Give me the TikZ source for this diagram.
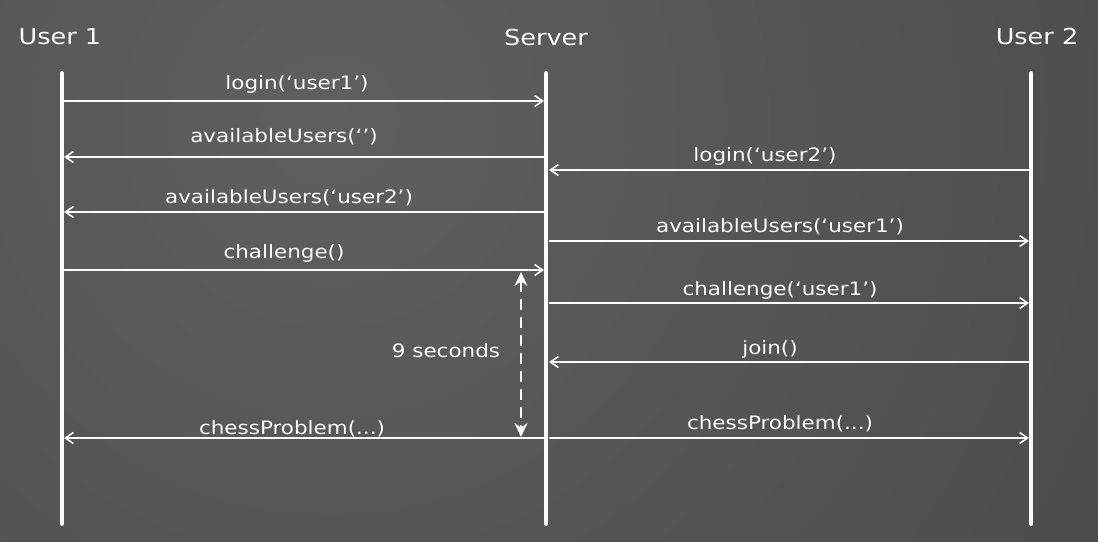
\documentclass[tikz,border=0pt]{standalone}
\usepackage{fontspec}
\setmainfont{DejaVu Sans}[FakeStretch=1.16]
\usetikzlibrary{arrows.meta}
\definecolor{bgA}{HTML}{5F5F5F}
\definecolor{bgB}{HTML}{373737}
\definecolor{chalk}{HTML}{FAFAFA}
\begin{document}
\begin{tikzpicture}[x=1pt,y=-1pt,
  lifeline/.style={draw=chalk,line width=4pt,line cap=round},
  msg/.style={draw=chalk,line width=2pt,-{Straight Barb[length=8pt,width=11pt,line width=1.6pt]}},
  head/.style={text=chalk,font=\fontsize{22}{24}\selectfont,anchor=base,inner sep=0pt},
  lbl/.style={text=chalk,font=\fontsize{18.5}{20}\selectfont,anchor=base,inner sep=0pt},
  timer/.style={draw=chalk,line width=2.5pt,dash pattern=on 11pt off 7pt,{Stealth[length=14pt,width=13pt]}-{Stealth[length=14pt,width=13pt]}}]
\useasboundingbox (0,0) rectangle (1098,541);
\begin{scope}
  \clip (0,0) rectangle (1098,541);
  \shade[inner color=bgA,outer color=bgB] (330,120) circle (1850pt);
\end{scope}
% headers
\node[head] (h1) at (60,44) {User 1};
\node[head] (hs) at (546,45) {Server};
\node[head] (h2) at (1037,44) {User 2};
% lifelines
\coordinate (u1t) at (62,73);  \coordinate (u1b) at (62,524);
\coordinate (st)  at (546,73); \coordinate (sb)  at (546,524);
\coordinate (u2t) at (1031,73);\coordinate (u2b) at (1031,524);
\draw[lifeline] (u1t) -- (u1b);
\draw[lifeline] (st) -- (sb);
\draw[lifeline] (u2t) -- (u2b);
% message endpoints
\coordinate (m1a) at (64,101);   \coordinate (m1b) at (544,101);
\coordinate (m2a) at (544,157);  \coordinate (m2b) at (64,157);
\coordinate (m3a) at (1029,170); \coordinate (m3b) at (549,170);
\coordinate (m4a) at (544,212);  \coordinate (m4b) at (64,212);
\coordinate (m5a) at (549,241);  \coordinate (m5b) at (1029,241);
\coordinate (m6a) at (64,270);   \coordinate (m6b) at (544,270);
\coordinate (m7a) at (549,303);  \coordinate (m7b) at (1029,303);
\coordinate (m8a) at (1029,362); \coordinate (m8b) at (549,362);
\coordinate (m9a) at (546,438);  \coordinate (m9b) at (64,438);
\coordinate (m10a) at (549,438); \coordinate (m10b) at (1029,438);
\draw[msg] (m1a) -- (m1b);
\draw[msg] (m2a) -- (m2b);
\draw[msg] (m3a) -- (m3b);
\draw[msg] (m4a) -- (m4b);
\draw[msg] (m5a) -- (m5b);
\draw[msg] (m6a) -- (m6b);
\draw[msg] (m7a) -- (m7b);
\draw[msg] (m8a) -- (m8b);
\draw[msg] (m9a) -- (m9b);
\draw[msg] (m10a) -- (m10b);
% labels
\node[lbl] (l1) at (297,89) {login(‘user1’)};
\node[lbl] (l2) at (284,142) {availableUsers(‘’)};
\node[lbl] (l3) at (765,161) {login(‘user2’)};
\node[lbl] (l4) at (289,203) {availableUsers(‘user2’)};
\node[lbl] (l5) at (780,232) {availableUsers(‘user1’)};
\node[lbl] (l6) at (284,258) {challenge()};
\node[lbl] (l7) at (780,295) {challenge(‘user1’)};
\node[lbl] (l8) at (770,354) {join()};
\node[lbl] (l9) at (292,434) {chessProblem(...)};
\node[lbl] (l10) at (780,429) {chessProblem(...)};
% timer
\coordinate (t1) at (521,272);
\coordinate (t2) at (521,437);
\draw[timer] (t1) -- (t2);
\node[lbl] (tl) at (446,357) {9 seconds};
\end{tikzpicture}
\end{document}
